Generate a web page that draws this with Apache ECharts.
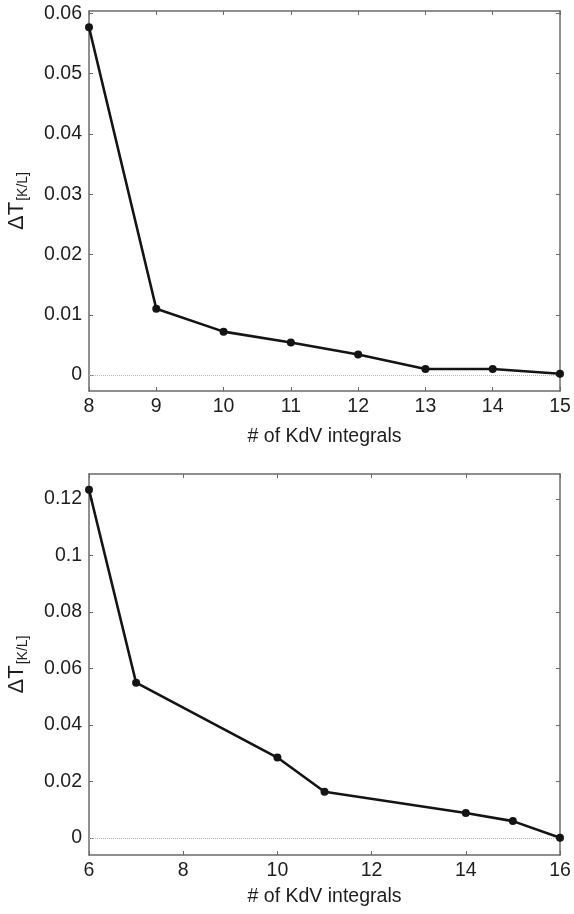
<!DOCTYPE html>
<html>
<head>
<meta charset="utf-8">
<script src="https://cdn.jsdelivr.net/npm/echarts@6/dist/echarts.min.js"></script>
<style>
html,body{margin:0;padding:0;background:#fff;}
#c{width:574px;height:914px;}
</style>
</head>
<body>
<div id="c"></div>
<script>
// Top panel
var topX = [8, 9, 10, 11, 12, 13, 14, 15];
var topY = [0.0577, 0.0110, 0.0072, 0.0054, 0.0034, 0.0010, 0.0010, 0.0002];
var topYTicks = [0, 0.01, 0.02, 0.03, 0.04, 0.05, 0.06];
// Bottom panel
var botX = [6, 7, 10, 11, 14, 15, 16];
var botY = [0.1232, 0.0549, 0.0284, 0.0163, 0.0088, 0.0059, 0.0];
var botYTicks = [0, 0.02, 0.04, 0.06, 0.08, 0.1, 0.12];

var xName = '# of KdV integrals';
var font = 'Liberation Sans, Arial, Helvetica, sans-serif';
var axisCol = '#6a6a6a';
var txtCol = '#1e1e1e';

function pairs(xs, ys) { return xs.map(function (x, i) { return [x, ys[i]]; }); }

var chart = echarts.init(document.getElementById('c'), null, {renderer: 'canvas'});

function xMain(grid, min, max, interval, gap) {
  return {
    type: 'value', gridIndex: grid, min: min, max: max, interval: interval,
    position: 'bottom',
    name: xName, nameLocation: 'middle', nameGap: gap,
    nameTextStyle: {fontFamily: font, fontSize: 19.5, color: txtCol},
    axisLine: {show: true, onZero: false, lineStyle: {color: axisCol, width: 1.5}},
    axisTick: {show: true, inside: true, length: 4, lineStyle: {color: axisCol, width: 1}},
    axisLabel: {fontFamily: font, fontSize: 19.5, color: txtCol, margin: 6},
    splitLine: {show: false}
  };
}
function xTop(grid, min, max, interval) {
  return {
    type: 'value', gridIndex: grid, min: min, max: max, interval: interval,
    position: 'top',
    axisLine: {show: true, onZero: false, lineStyle: {color: axisCol, width: 1.5}},
    axisTick: {show: true, inside: true, length: 4, lineStyle: {color: axisCol, width: 1}},
    axisLabel: {show: false}, splitLine: {show: false}
  };
}
function yMain(grid, min, max, ticks) {
  return {
    type: 'value', gridIndex: grid, min: min, max: max, position: 'left',
    name: '{a|ΔT}{b|[K/L]}', nameLocation: 'middle', nameRotate: 90, nameGap: 53,
    nameTextStyle: {
      fontFamily: font, color: txtCol,
      rich: {
        a: {fontFamily: font, fontSize: 22, color: txtCol, lineHeight: 32, verticalAlign: 'middle'},
        b: {fontFamily: font, fontSize: 14, color: txtCol, lineHeight: 32, verticalAlign: 'bottom', padding: [0, 0, 3, 1]}
      }
    },
    axisLine: {show: true, onZero: false, lineStyle: {color: axisCol, width: 1.5}},
    axisTick: {show: true, inside: true, length: 4, customValues: ticks, lineStyle: {color: axisCol, width: 1}},
    axisLabel: {fontFamily: font, fontSize: 19.5, color: txtCol, margin: 7, customValues: ticks},
    splitLine: {show: false}
  };
}
function yRight(grid, min, max, ticks) {
  return {
    type: 'value', gridIndex: grid, min: min, max: max, position: 'right',
    axisLine: {show: true, onZero: false, lineStyle: {color: axisCol, width: 1.5}},
    axisTick: {show: true, inside: true, length: 4, customValues: ticks, lineStyle: {color: axisCol, width: 1}},
    axisLabel: {show: false, customValues: ticks},
    splitLine: {show: false}
  };
}
function lineSeries(xi, yi, xs, ys) {
  return {
    type: 'line', xAxisIndex: xi, yAxisIndex: yi, data: pairs(xs, ys),
    symbol: 'circle', symbolSize: 8, showSymbol: true,
    lineStyle: {color: '#141414', width: 2.6},
    itemStyle: {color: '#141414'},
    animation: false, clip: false, z: 5,
    markLine: {
      silent: true, symbol: 'none', label: {show: false},
      lineStyle: {color: '#b5b5b5', type: 'dotted', width: 1},
      data: [{yAxis: 0}]
    }
  };
}

chart.setOption({
  backgroundColor: '#ffffff',
  animation: false,
  grid: [
    {left: 89, right: 14, top: 11, height: 380, containLabel: false, outerBoundsMode: 'none'},
    {left: 89, right: 14, top: 474, height: 381, containLabel: false, outerBoundsMode: 'none'}
  ],
  xAxis: [
    xMain(0, 8, 15, 1, 36),
    xTop(0, 8, 15, 1),
    xMain(1, 6, 16, 2, 32),
    xTop(1, 6, 16, 2)
  ],
  yAxis: [
    yMain(0, -0.00265, 0.0604, topYTicks),
    yRight(0, -0.00265, 0.0604, topYTicks),
    yMain(1, -0.0061, 0.1288, botYTicks),
    yRight(1, -0.0061, 0.1288, botYTicks)
  ],
  series: [
    lineSeries(0, 0, topX, topY),
    lineSeries(2, 2, botX, botY)
  ]
});
</script>
</body>
</html>
